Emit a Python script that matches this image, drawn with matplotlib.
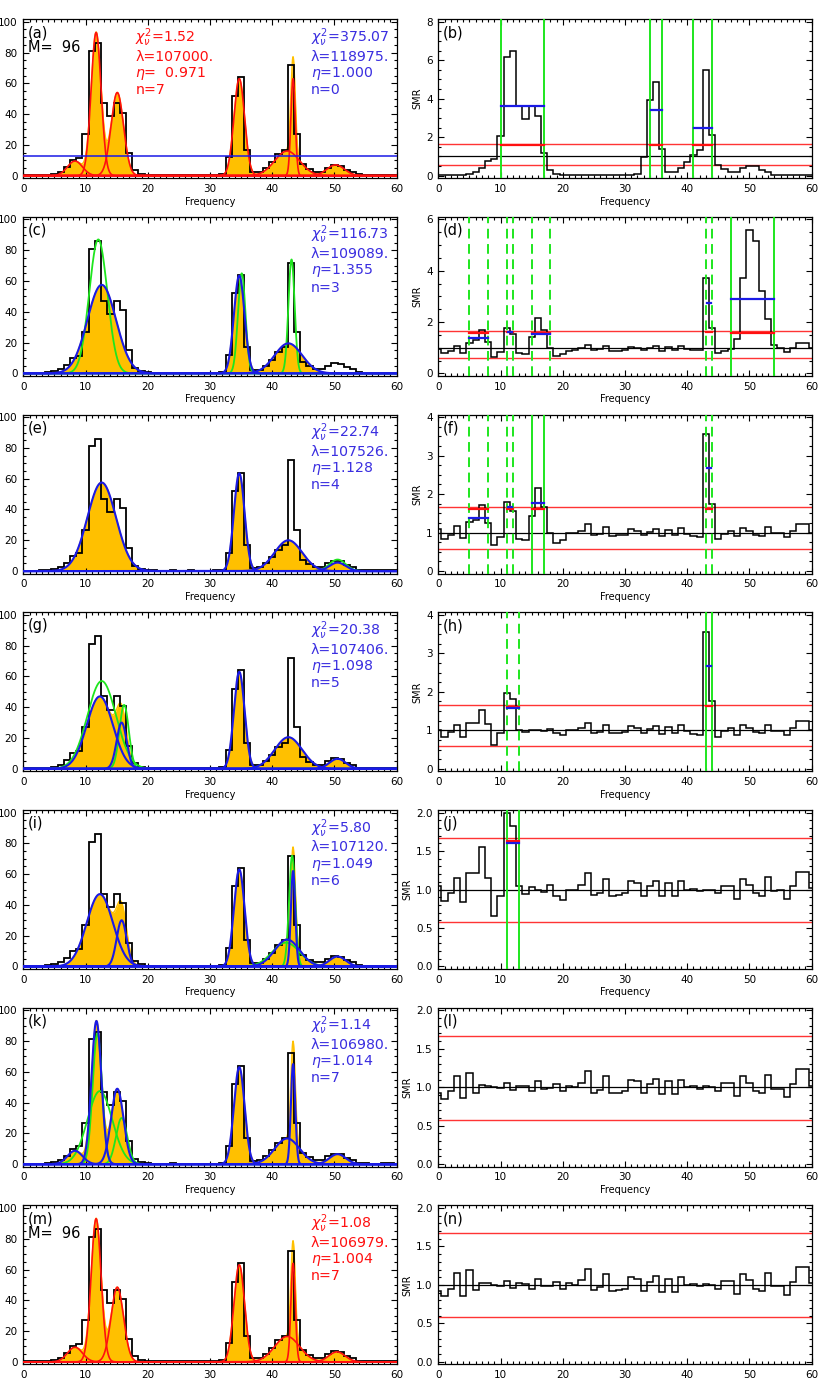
import numpy as np
import matplotlib
matplotlib.use('Agg')
import matplotlib.pyplot as plt
from matplotlib.ticker import MultipleLocator, FormatStrFormatter

plt.rcParams['font.family'] = ['DejaVu Sans']
plt.rcParams['mathtext.fontset'] = 'dejavusans'
plt.rcParams['lines.scale_dashes'] = False

ORANGE = '#FFC000'
RED = '#FF1010'
BLUE = '#1A1AE6'
TBLUE = '#3A2EE0'
GREEN = '#1EE61E'

# histogram (bins centred on integer frequencies)
freq = np.arange(61)
counts = [0.3, 0.3, 0.3, 0.4, 0.7, 1.3, 2.6, 5.5, 10, 11.5,
          27, 81, 86, 47, 38.5, 47, 41, 15, 3.5, 1.3,
          0.6, 0.4, 0.3, 0.3, 0.5, 0.3, 0.3, 0.4, 0.3, 0.3,
          0.3, 0.4, 1.0, 12, 52, 64, 17, 2.3, 2.5, 5,
          9, 14, 17, 72, 27, 7.5, 4.5, 2.7, 2.7, 5,
          6.8, 6.3, 4, 2.6, 0.8, 0.5, 0.4, 0.4, 0.5, 0.5, 0.4]
n0_level = 12.5

# gaussian components: (centre, amplitude, sigma)
comp_a = [(8.3, 9.5, 1.2), (11.7, 93, 0.8), (15.1, 54, 1.0), (34.7, 63, 0.85),
          (42.4, 16, 2.0), (43.35, 63, 0.35), (50.2, 7, 1.4)]
comp_c = [(12.6, 57.5, 2.3), (34.7, 63.5, 0.85), (42.6, 19.5, 2.2)]
green_c = [(12.05, 87, 1.45), (35.1, 65, 0.6), (43.1, 74, 0.5)]
comp_e = [(12.6, 57.5, 2.3), (34.7, 63.5, 0.85), (42.6, 20, 2.2), (50.5, 5.5, 1.3)]
green_e = [(50.5, 7.5, 1.3)]
comp_g = [(12.3, 47, 2.1), (15.8, 30, 0.8), (34.7, 63, 0.85), (42.6, 20.5, 2.2),
          (50.5, 6.5, 1.3)]
green_g = [(12.6, 57, 2.3), (16.2, 41.5, 0.75)]
comp_i = [(12.3, 47, 2.1), (15.8, 30, 0.8), (34.7, 63, 0.85), (42.4, 17.5, 2.0),
          (43.35, 62, 0.35), (50.5, 6.5, 1.3)]
green_i = [(43.2, 72, 0.5), (42.2, 15.5, 2.2)]
comp_k = [(8.3, 8.7, 1.2), (11.75, 93, 0.8), (15.1, 49, 1.0), (34.7, 63, 0.85),
          (42.4, 16.7, 2.0), (43.35, 65, 0.35), (50.5, 6.5, 1.3)]
green_k = [(11.9, 85, 0.75), (12.3, 47.5, 2.0), (15.8, 30, 0.9)]
comp_m = [(8.3, 9.5, 1.2), (11.7, 93, 0.8), (15.1, 48.5, 1.0), (34.7, 63, 0.85),
          (42.4, 16.5, 2.0), (43.35, 64, 0.35), (50.4, 6.5, 1.3)]

# fit statistics
stats_a_red = ['1.52', '107000.', '  0.971', '7']
stats_a_blue = ['375.07', '118975.', '1.000', '0']
stats_c = ['116.73', '109089.', '1.355', '3']
stats_e = ['22.74', '107526.', '1.128', '4']
stats_g = ['20.38', '107406.', '1.098', '5']
stats_i = ['5.80', '107120.', '1.049', '6']
stats_k = ['1.14', '106980.', '1.014', '7']
stats_m = ['1.08', '106979.', '1.004', '7']

# SMR per bin
smr_b = [0.02, 0.02, 0.03, 0.03, 0.05, 0.10, 0.20, 0.42, 0.77, 0.88,
         2.08, 6.15, 6.50, 3.60, 2.95, 3.60, 3.10, 1.18, 0.28, 0.10,
         0.05, 0.03, 0.02, 0.03, 0.05, 0.02, 0.03, 0.03, 0.02, 0.02,
         0.03, 0.03, 0.08, 0.95, 3.95, 4.85, 1.40, 0.18, 0.20, 0.38,
         0.70, 1.08, 1.33, 5.50, 2.10, 0.56, 0.35, 0.20, 0.20, 0.38,
         0.52, 0.48, 0.30, 0.20, 0.06, 0.04, 0.03, 0.03, 0.04, 0.04, 0.03]
smr_d = [0.94, 0.80, 0.87, 1.07, 0.78, 1.20, 1.32, 1.70, 1.23, 0.64,
         0.83, 1.78, 1.55, 0.80, 0.77, 1.42, 2.17, 1.69, 1.00, 0.68,
         0.77, 0.88, 0.92, 0.97, 1.12, 0.93, 0.95, 1.05, 0.87, 0.88,
         0.90, 1.02, 1.00, 0.90, 0.98, 1.05, 0.88, 1.03, 0.90, 1.07,
         0.96, 0.93, 0.90, 3.72, 1.78, 0.80, 0.87, 0.95, 1.35, 3.70,
         5.60, 5.15, 3.20, 2.10, 1.10, 1.00, 0.85, 1.00, 1.17, 1.17, 1.00]
smr_f = [1.10, 0.84, 0.95, 1.16, 0.85, 1.27, 1.33, 1.72, 1.25, 0.67,
         0.88, 1.80, 1.55, 0.84, 0.80, 1.43, 2.17, 1.67, 1.00, 0.73,
         0.80, 0.98, 1.00, 1.05, 1.22, 0.95, 0.97, 1.15, 0.92, 0.93,
         0.95, 1.10, 1.05, 0.93, 1.02, 1.10, 0.92, 1.08, 0.95, 1.12,
         0.97, 0.92, 0.88, 3.57, 1.75, 0.84, 0.97, 1.05, 0.90, 1.12,
         1.05, 0.95, 0.92, 1.15, 0.98, 0.98, 0.88, 1.05, 1.23, 1.23, 1.00]
smr_h = [1.00, 0.83, 0.95, 1.15, 0.82, 1.20, 1.20, 1.53, 1.17, 0.63,
         0.92, 1.97, 1.80, 1.02, 0.95, 1.02, 1.00, 0.97, 1.04, 0.92,
         0.87, 1.00, 1.00, 1.05, 1.20, 0.93, 0.95, 1.13, 0.92, 0.93,
         0.95, 1.10, 1.07, 0.92, 1.04, 1.10, 0.91, 1.08, 0.92, 1.13,
         0.98, 0.90, 0.87, 3.55, 1.75, 0.83, 0.97, 1.05, 0.88, 1.13,
         1.05, 0.95, 0.92, 1.15, 0.98, 0.98, 0.88, 1.05, 1.23, 1.23, 1.00]
smr_j = [1.05, 0.85, 0.95, 1.15, 0.84, 1.21, 1.22, 1.55, 1.15, 0.66,
         0.92, 2.00, 1.82, 1.04, 0.94, 1.03, 1.00, 0.97, 1.06, 0.92,
         0.87, 1.00, 1.00, 1.06, 1.22, 0.93, 0.96, 1.14, 0.92, 0.93,
         0.95, 1.11, 1.09, 0.92, 1.04, 1.11, 0.91, 1.08, 0.91, 1.11,
         1.00, 1.01, 0.98, 1.00, 1.00, 0.96, 1.05, 1.05, 0.88, 1.14,
         1.06, 0.95, 0.92, 1.16, 0.98, 0.99, 0.88, 1.04, 1.23, 1.23, 1.02]
smr_l = [0.92, 0.85, 0.95, 1.15, 0.86, 1.19, 0.93, 1.03, 1.02, 1.00,
         0.99, 1.05, 0.96, 1.02, 1.01, 0.95, 1.08, 0.98, 0.99, 1.04,
         0.95, 1.02, 1.00, 1.06, 1.21, 0.93, 0.97, 1.14, 0.92, 0.93,
         0.95, 1.10, 1.08, 0.92, 1.04, 1.11, 0.91, 1.08, 0.91, 1.10,
         1.00, 1.01, 0.98, 1.01, 1.00, 0.95, 1.05, 1.05, 0.88, 1.14,
         1.06, 0.95, 0.92, 1.16, 0.98, 0.98, 0.87, 1.04, 1.23, 1.23, 1.02]
smr_n = list(smr_l)
smr_hi, smr_lo = 1.67, 0.58

# region markers: solid / dashed green lines, and (x0, x1, level, colour) bars
solid_b = [10, 17, 34, 36, 41, 44]
dash_b = []
bars_b = [(10, 17, 1.58, 'r'), (10, 17, 3.62, 'b'), (34, 36, 1.6, 'r'), (34.2, 35.9, 3.4, 'b'),
          (41, 44, 1.6, 'r'), (41.1, 43.9, 2.5, 'b')]
solid_d = [47, 54]
dash_d = [5, 8, 11, 12, 15, 18, 43, 44]
bars_d = [(5, 8, 1.58, 'r'), (5, 8, 1.36, 'b'), (11, 12, 1.6, 'r'), (11.2, 11.8, 1.63, 'b'),
          (15, 18, 1.57, 'r'), (15, 18, 1.55, 'b'), (43, 44, 1.6, 'r'), (43.2, 43.8, 2.74, 'b'),
          (47, 54, 1.56, 'r'), (47, 54, 2.88, 'b')]
solid_f = [15, 17]
dash_f = [5, 8, 11, 12, 43, 44]
bars_f = [(5, 8, 1.61, 'r'), (5, 8, 1.38, 'b'), (11, 12, 1.62, 'r'), (11.2, 11.8, 1.66, 'b'),
          (15, 17, 1.61, 'r'), (15, 17, 1.76, 'b'), (43, 44, 1.62, 'r'), (43.2, 43.8, 2.68, 'b')]
solid_h = [43, 44]
dash_h = [11, 13]
bars_h = [(11, 13, 1.61, 'r'), (11, 13, 1.59, 'b'), (43, 44, 1.62, 'r'), (43.1, 43.8, 2.67, 'b')]
solid_j = [11, 13]
dash_j = []
bars_j = [(11, 13, 1.63, 'r'), (11, 13, 1.61, 'b')]

left_rows = [
    ('(a)', True, comp_a, RED, [], [(0.30, RED, stats_a_red), (0.77, TBLUE, stats_a_blue)], n0_level),
    ('(c)', False, comp_c, BLUE, green_c, [(0.77, TBLUE, stats_c)], None),
    ('(e)', False, comp_e, BLUE, green_e, [(0.77, TBLUE, stats_e)], None),
    ('(g)', False, comp_g, BLUE, green_g, [(0.77, TBLUE, stats_g)], None),
    ('(i)', False, comp_i, BLUE, green_i, [(0.77, TBLUE, stats_i)], None),
    ('(k)', False, comp_k, BLUE, green_k, [(0.77, TBLUE, stats_k)], None),
    ('(m)', True, comp_m, RED, [], [(0.77, RED, stats_m)], None),
]
right_rows = [
    ('(b)', smr_b, 8, 2, 0.5, solid_b, dash_b, bars_b),
    ('(d)', smr_d, 6, 2, 0.5, solid_d, dash_d, bars_d),
    ('(f)', smr_f, 4, 1, 0.25, solid_f, dash_f, bars_f),
    ('(h)', smr_h, 4, 1, 0.25, solid_h, dash_h, bars_h),
    ('(j)', smr_j, 2, 0.5, 0.1, solid_j, dash_j, bars_j),
    ('(l)', smr_l, 2, 0.5, 0.1, [], [], []),
    ('(n)', smr_n, 2, 0.5, 0.1, [], [], []),
]


def gauss(x, c, a, s):
    return a * np.exp(-0.5 * ((x - c) / s) ** 2)


def style_axes(ax, ytop, ymaj, ymin, last):
    pad = 0.017 * ytop
    ax.set_xlim(0, 60)
    ax.set_ylim(-pad, ytop + pad)
    ax.xaxis.set_major_locator(MultipleLocator(10))
    ax.xaxis.set_minor_locator(MultipleLocator(1))
    ax.yaxis.set_major_locator(MultipleLocator(ymaj))
    ax.yaxis.set_minor_locator(MultipleLocator(ymin))
    ax.tick_params(which='both', direction='in', top=True, right=True, labelsize=7.5,
                   width=0.8, pad=4)
    ax.tick_params(which='major', length=4.5)
    ax.tick_params(which='minor', length=2.2)
    for sp in ax.spines.values():
        sp.set_linewidth(0.9)
    if not last:
        ax.set_xlabel('Frequency', fontsize=7, labelpad=2)


fig = plt.figure(figsize=(8.3, 13.84), dpi=100)
W, H = 830.0, 1384.0
xs = np.linspace(0, 60, 2401)
edges = np.arange(62) - 0.5

for r in range(7):
    top_px = 19.1 + 197.7 * r
    h_px = 159.2
    bottom = (H - top_px - h_px) / H
    last = r == 6

    # left: histogram and gaussian fit
    label, show_m, comps, ccol, greens, stats, hline = left_rows[r]
    ax = fig.add_axes([23.3 / W, bottom, 373.4 / W, h_px / H])
    total = np.zeros_like(xs)
    for c, a, s in comps:
        total += gauss(xs, c, a, s)
    ax.fill_between(xs, 0, total, color=ORANGE, lw=0, zorder=1)
    ax.plot(xs, total, color=ORANGE, lw=1, zorder=1)
    ax.stairs(counts, edges, baseline=None, color='black', lw=1.3, zorder=2)
    for c, a, s in greens:
        ax.plot(xs, gauss(xs, c, a, s), color=GREEN, lw=1.3, zorder=3)
    for c, a, s in comps:
        ax.plot(xs, gauss(xs, c, a, s), color=ccol, lw=1.5 if ccol == BLUE else 1.2, zorder=4)
    if hline is not None:
        ax.axhline(hline, color=BLUE, lw=1.1, zorder=5)
    style_axes(ax, 100, 20, 5, last)
    ax.text(0.013, 0.915, label, transform=ax.transAxes, fontsize=10.5, va='center')
    if show_m:
        ax.text(0.013, 0.82, 'M=  96', transform=ax.transAxes, fontsize=10.5, va='center')
    for xpos, col, vals in stats:
        lines = [r'$\chi^2_\nu$=' + vals[0], 'λ=' + vals[1],
                 r'$\eta$=' + vals[2], 'n=' + vals[3]]
        for k, (txt, yp) in enumerate(zip(lines, [0.885, 0.765, 0.66, 0.555])):
            ax.text(xpos, yp, txt, transform=ax.transAxes, fontsize=10.2, color=col,
                    va='center')

    # right: standardized residuals
    label, smr, ytop, ymaj, ymin, solid, dashed, bars = right_rows[r]
    ax = fig.add_axes([438.3 / W, bottom, 373.4 / W, h_px / H])
    ax.axhline(1.0, color='black', lw=0.9, zorder=1)
    ax.axhline(smr_hi, color=RED, lw=1.0, alpha=0.85, zorder=1)
    ax.axhline(smr_lo, color=RED, lw=1.0, alpha=0.85, zorder=1)
    ax.stairs(smr, edges, baseline=None, color='black', lw=1.1, zorder=2)
    for xv in solid:
        ax.axvline(xv, color=GREEN, lw=1.4, zorder=3)
    for xv in dashed:
        ax.axvline(xv, color=GREEN, lw=1.4, dashes=(7, 4), zorder=3)
    for x0, x1, lev, c in bars:
        ax.plot([x0, x1], [lev, lev], color=RED if c == 'r' else BLUE, lw=1.6, zorder=4)
    style_axes(ax, ytop, ymaj, ymin, last)
    if ytop == 2:
        ax.yaxis.set_major_formatter(FormatStrFormatter('%.1f'))
    ax.set_ylabel('SMR', fontsize=7, labelpad=3)
    ax.text(0.013, 0.915, label, transform=ax.transAxes, fontsize=10.5, va='center')

fig.savefig('out.png', dpi=100)
